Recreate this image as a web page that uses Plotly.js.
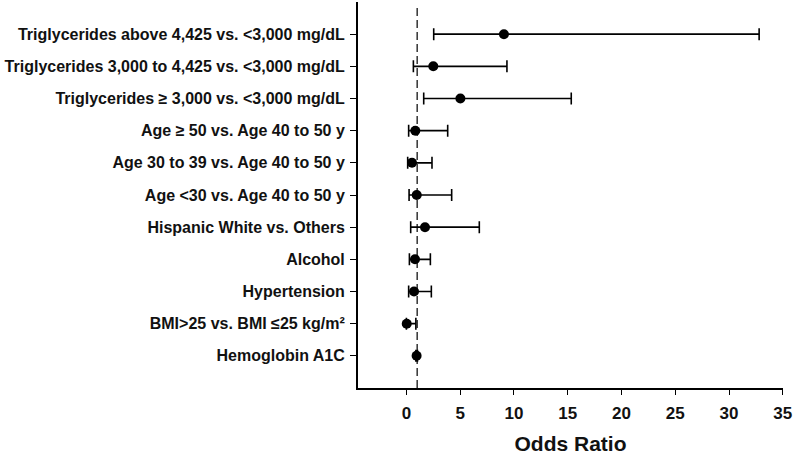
<!DOCTYPE html>
<html>
<head>
<meta charset="utf-8">
<script src="https://cdn.plot.ly/plotly-3.0.1.min.js"></script>
<style>
  html, body { margin: 0; padding: 0; background: #fff; }
  #chart { width: 797px; height: 455px; }
</style>
</head>
<body>
<div id="chart"></div>
<script>
// rows listed bottom to top
var factors = [
    'Hemoglobin A1C',
    'BMI>25 vs. BMI \u226425 kg/m\u00b2',
    'Hypertension',
    'Alcohol',
    'Hispanic White vs. Others',
    'Age <30 vs. Age 40 to 50 y',
    'Age 30 to 39 vs. Age 40 to 50 y',
    'Age \u2265 50 vs. Age 40 to 50 y',
    'Triglycerides \u2265 3,000 vs. <3,000 mg/dL',
    'Triglycerides 3,000 to 4,425 vs. <3,000 mg/dL',
    'Triglycerides above 4,425 vs. <3,000 mg/dL'
];
var oddsRatio = [0.95, 0.03, 0.71, 0.80, 1.73, 0.96, 0.52, 0.83, 5.02, 2.50, 9.07];
var ciLow     = [0.88, 0.00, 0.21, 0.28, 0.40, 0.25, 0.12, 0.21, 1.61, 0.65, 2.54];
var ciHigh    = [1.03, 0.88, 2.32, 2.23, 6.78, 4.21, 2.38, 3.84, 15.33, 9.35, 32.8];
var refLine = 1;
var xTicks = [0, 5, 10, 15, 20, 25, 30, 35];

var plus = oddsRatio.map(function(v, i) { return ciHigh[i] - v; });
var minus = oddsRatio.map(function(v, i) { return v - ciLow[i]; });

var data = [{
    x: oddsRatio,
    y: factors,
    type: 'scatter',
    mode: 'markers',
    marker: {color: '#000', size: 10},
    error_x: {
        type: 'data',
        symmetric: false,
        array: plus,
        arrayminus: minus,
        color: '#000',
        thickness: 1.6,
        width: 6
    },
    hoverinfo: 'x+y'
}];

var font = {family: 'Liberation Sans, Arial, sans-serif', color: '#111', weight: 'bold'};

var layout = {
    width: 797,
    height: 455,
    margin: {l: 358, r: 14, t: 2, b: 67},
    paper_bgcolor: '#fff',
    plot_bgcolor: '#fff',
    showlegend: false,
    font: font,
    xaxis: {
        range: [-4.5, 35.02],
        tickvals: xTicks,
        ticks: 'outside',
        ticklen: 5,
        tickwidth: 1,
        tickcolor: '#000',
        ticklabelstandoff: 4,
        showline: true,
        linewidth: 2,
        linecolor: '#000',
        showgrid: false,
        zeroline: false,
        tickfont: {family: font.family, size: 17, color: '#111', weight: 'bold'},
        title: {text: 'Odds Ratio', font: {family: font.family, size: 21, color: '#111', weight: 'bold'}, standoff: 16}
    },
    yaxis: {
        type: 'category',
        categoryorder: 'array',
        categoryarray: factors,
        range: [-1, 11],
        ticks: 'outside',
        ticklen: 6,
        tickwidth: 1,
        tickcolor: '#000',
        ticklabelstandoff: 2,
        showline: true,
        linewidth: 2,
        linecolor: '#000',
        showgrid: false,
        zeroline: false,
        tickfont: {family: font.family, size: 16, color: '#111', weight: 'bold'}
    },
    shapes: [{
        type: 'line',
        xref: 'x', yref: 'paper',
        x0: refLine, x1: refLine, y0: 0, y1: 0.99,
        line: {color: '#000', width: 1.2, dash: '8px,4px'}
    }]
};

Plotly.newPlot('chart', data, layout, {displayModeBar: false, showLink: false});
</script>
</body>
</html>
